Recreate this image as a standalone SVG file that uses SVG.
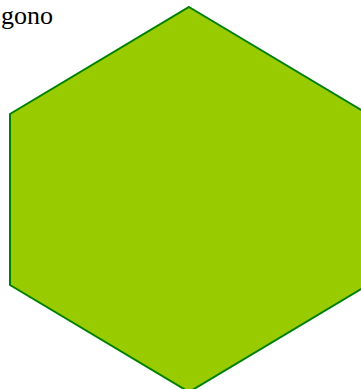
<svg xmlns="http://www.w3.org/2000/svg" width="361" height="389" viewBox="0 0 361 389">
<style>
.lbl{font-family:"Liberation Serif","Times New Roman",serif;font-size:26px;fill:#000}
.hex{fill:#99cc00;stroke:#008000;stroke-width:2}
</style>
<rect width="361" height="389" fill="#fff"/>
<g id="hexagon">
<polygon class="hex" points="189,7 368,114 368,285 189,392 10,285 10,114"/>
</g>
<g id="label">
<text class="lbl" x="1" y="24">gono</text>
</g>
</svg>
